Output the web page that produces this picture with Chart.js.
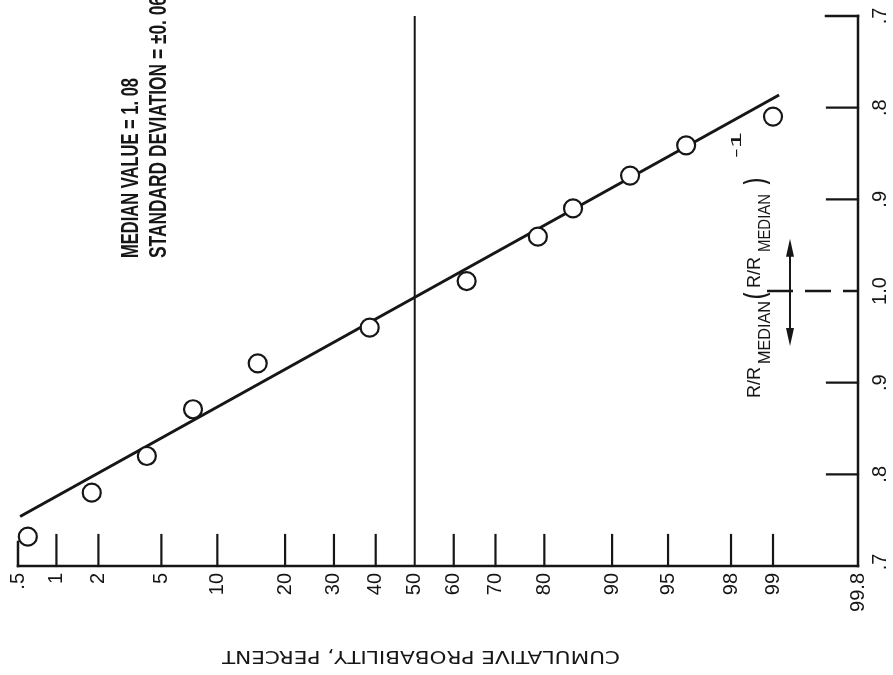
<!DOCTYPE html>
<html>
<head>
<meta charset="utf-8">
<script src="https://cdn.jsdelivr.net/npm/chart.js@4/dist/chart.umd.min.js"></script>
<style>
  html, body { margin: 0; padding: 0; background: #fff; }
  #chart { display: block; }
</style>
</head>
<body>
<canvas id="chart" width="893" height="675"></canvas>
<script>
// cumulative probability axis (percent), normal-probability spacing
const probTicks = [0.5, 1, 2, 5, 10, 20, 30, 40, 50, 60, 70, 80, 90, 95, 98, 99, 99.8];
const probLabels = ['.5', '1', '2', '5', '10', '20', '30', '40', '50', '60', '70', '80', '90', '95', '98', '99', '99.8'];

// R/R_median axis: below 1.0 read R/R_median, above read (R/R_median)^-1
const ratioTicks = [-3, -2, -1, 0, 1, 2, 3];
const ratioLabels = ['.7', '.8', '.9', '1.0', '.9', '.8', '.7'];

// measured points (percent, R/R_median)
const pointProb = [0.6, 1.8, 4.1, 7.5, 15.4, 38.5, 63.2, 78.8, 84.8, 91.9, 96.1, 99.0];
const pointRatio = [0.732, 0.78, 0.82, 0.871, 0.921, 0.96, 1.011, 1.063, 1.099, 1.144, 1.189, 1.235];

// fitted line ends
const fitProb = [0.52, 99.1];
const fitRatio = [0.754, 1.272];

const INK = '#161616';

// inverse normal cdf (Acklam)
function probit(p) {
  const a = [-3.969683028665376e+01, 2.209460984245205e+02, -2.759285104469687e+02, 1.383577518672690e+02, -3.066479806614716e+01, 2.506628277459239e+00];
  const b = [-5.447609879822406e+01, 1.615858368580409e+02, -1.556989798598866e+02, 6.680131188771972e+01, -1.328068155288572e+01];
  const c = [-7.784894002430293e-03, -3.223964580411365e-01, -2.400758277161838e+00, -2.549732539343734e+00, 4.374664141464968e+00, 2.938163982698783e+00];
  const d = [7.784695709041462e-03, 3.224671290700398e-01, 2.445134137142996e+00, 3.754408661907416e+00];
  const pl = 0.02425;
  if (p < pl) {
    const q = Math.sqrt(-2 * Math.log(p));
    return (((((c[0]*q+c[1])*q+c[2])*q+c[3])*q+c[4])*q+c[5]) / ((((d[0]*q+d[1])*q+d[2])*q+d[3])*q+1);
  }
  if (p > 1 - pl) {
    const q = Math.sqrt(-2 * Math.log(1 - p));
    return -(((((c[0]*q+c[1])*q+c[2])*q+c[3])*q+c[4])*q+c[5]) / ((((d[0]*q+d[1])*q+d[2])*q+d[3])*q+1);
  }
  const q = p - 0.5, r = q * q;
  return (((((a[0]*r+a[1])*r+a[2])*r+a[3])*r+a[4])*r+a[5])*q / (((((b[0]*r+b[1])*r+b[2])*r+b[3])*r+b[4])*r+1);
}

const zOf = pct => probit(pct / 100);
const ratioPos = r => r <= 1 ? (r - 1) / 0.1 : (1 - 1 / r) / 0.1;

const points = pointProb.map((p, i) => ({ x: zOf(p), y: ratioPos(pointRatio[i]) }));
const fitLine = fitProb.map((p, i) => ({ x: zOf(p), y: ratioPos(fitRatio[i]) }));
const medianLine = [{ x: zOf(50), y: ratioTicks[0] }, { x: zOf(50), y: ratioTicks[ratioTicks.length - 1] }];

function seg(ctx, x1, y1, x2, y2) {
  ctx.beginPath();
  ctx.moveTo(x1, y1);
  ctx.lineTo(x2, y2);
  ctx.stroke();
}

// text drawn at (x,y) rotated by angle; optional squeeze to a target length
function rotText(ctx, text, x, y, angle, font, align, width) {
  ctx.save();
  ctx.translate(x, y);
  ctx.rotate(angle);
  ctx.font = font;
  ctx.textAlign = align;
  ctx.textBaseline = 'middle';
  if (width) {
    const w = ctx.measureText(text).width;
    ctx.scale(width / w, 1);
  }
  ctx.fillText(text, 0, 0);
  ctx.restore();
}

// text reading bottom to top, starting at y, baseline column at x
function upText(ctx, text, x, y, font, length) {
  ctx.save();
  ctx.translate(x, y);
  ctx.rotate(-Math.PI / 2);
  ctx.font = font;
  ctx.textAlign = 'left';
  ctx.textBaseline = 'alphabetic';
  if (length) ctx.scale(length / ctx.measureText(text).width, 1);
  ctx.fillText(text, 0, 0);
  ctx.restore();
}

const probPaper = {
  id: 'probPaper',
  afterDatasetsDraw(chart) {
    const { ctx, chartArea: a } = chart;
    const xs = chart.scales.x, ys = chart.scales.y;
    ctx.save();
    ctx.strokeStyle = INK;
    ctx.fillStyle = INK;
    ctx.lineCap = 'square';

    // frame pieces
    ctx.lineWidth = 2.5;
    seg(ctx, a.left, a.bottom, a.right, a.bottom);
    seg(ctx, a.right, a.top, a.right, a.bottom);
    seg(ctx, a.right - 32, a.top, a.right, a.top);
    seg(ctx, a.left, a.bottom - 24, a.left, a.bottom);

    // probability ticks and labels
    const tickFont = '20px "Liberation Sans", Arial, sans-serif';
    probTicks.forEach((p, i) => {
      const x = xs.getPixelForValue(zOf(p));
      if (i > 0 && i < probTicks.length - 1 && p !== 50) {
        ctx.lineWidth = 2.2;
        seg(ctx, x, a.bottom - 31, x, a.bottom);
      }
      rotText(ctx, probLabels[i], x, a.bottom + 7, -Math.PI / 2, tickFont, 'right');
    });

    // ratio ticks and labels
    ratioTicks.forEach((v, i) => {
      const y = ys.getPixelForValue(v);
      if (Math.abs(v) === 1 || Math.abs(v) === 2) {
        ctx.lineWidth = 2.2;
        seg(ctx, a.right - 31, y, a.right, y);
      }
      const ly = v === ratioTicks[0] ? y - 4 : y;
      rotText(ctx, ratioLabels[i], a.right + 22, ly, -Math.PI / 2, tickFont, 'center');
    });

    // dashed 1.0 line and double arrow
    const y0 = ys.getPixelForValue(0);
    ctx.lineWidth = 2.5;
    ctx.setLineDash([26, 12]);
    ctx.lineCap = 'butt';
    seg(ctx, a.right - 91, y0, a.right, y0);
    ctx.setLineDash([]);
    const ax = a.right - 68;
    const yUp = ys.getPixelForValue(0.57), yDn = ys.getPixelForValue(-0.6);
    ctx.lineWidth = 2;
    seg(ctx, ax, yUp + 10, ax, yDn - 10);
    ctx.beginPath();
    ctx.moveTo(ax, yUp); ctx.lineTo(ax - 4, yUp + 18); ctx.lineTo(ax + 4, yUp + 18); ctx.closePath(); ctx.fill();
    ctx.beginPath();
    ctx.moveTo(ax, yDn); ctx.lineTo(ax - 4, yDn - 18); ctx.lineTo(ax + 4, yDn - 18); ctx.closePath(); ctx.fill();

    // axis caption R/R_median  (R/R_median)^-1
    const big = '18px "Liberation Sans", Arial, sans-serif';
    const sub = '16px "Liberation Sans Narrow", "Liberation Sans", sans-serif';
    const par = '30px "DejaVu Sans", sans-serif';
    const bx = 760;
    upText(ctx, 'R/R', bx, 398, big, 31);
    upText(ctx, 'MEDIAN', bx + 10, 364, sub, 63);
    upText(ctx, '(', bx + 6, 300, par, 9);
    upText(ctx, 'R/R', bx, 288, big, 31);
    upText(ctx, 'MEDIAN', bx + 10, 252, sub, 58);
    upText(ctx, ')', bx + 6, 186, par, 9);
    upText(ctx, '-1', bx - 19, 158, '14px "Liberation Sans", Arial, sans-serif', 26);

    // statistics note
    const note = 'bold 24px "Liberation Sans Narrow", "Liberation Sans", sans-serif';
    upText(ctx, 'MEDIAN VALUE = 1. 08', 138, 258, note, 180);
    upText(ctx, 'STANDARD DEVIATION = ±0. 06', 166, 258, note, 262);

    // bottom caption, upside down
    rotText(ctx, 'CUMULATIVE PROBABILITY, PERCENT', 421, 656, Math.PI,
      '18px "DejaVu Sans", sans-serif', 'center', 398);

    ctx.restore();
  }
};

new Chart(document.getElementById('chart'), {
  type: 'scatter',
  data: {
    datasets: [
      {
        data: points,
        order: 0,
        pointRadius: 9,
        pointBorderWidth: 2.2,
        pointBackgroundColor: '#fff',
        pointBorderColor: INK,
        showLine: false,
        clip: false
      },
      {
        data: fitLine,
        order: 1,
        showLine: true,
        borderColor: INK,
        borderWidth: 3,
        pointRadius: 0,
        clip: false
      },
      {
        data: medianLine,
        order: 2,
        showLine: true,
        borderColor: INK,
        borderWidth: 2,
        pointRadius: 0,
        clip: false
      }
    ]
  },
  options: {
    responsive: false,
    animation: false,
    devicePixelRatio: 1,
    layout: { padding: { left: 18, top: 16, right: 35, bottom: 109 } },
    scales: {
      x: { type: 'linear', display: false, min: zOf(probTicks[0]), max: zOf(probTicks[probTicks.length - 1]) },
      y: { type: 'linear', display: false, min: ratioTicks[0], max: ratioTicks[ratioTicks.length - 1] }
    },
    plugins: { legend: { display: false }, tooltip: { enabled: false } }
  },
  plugins: [probPaper]
});
</script>
</body>
</html>
